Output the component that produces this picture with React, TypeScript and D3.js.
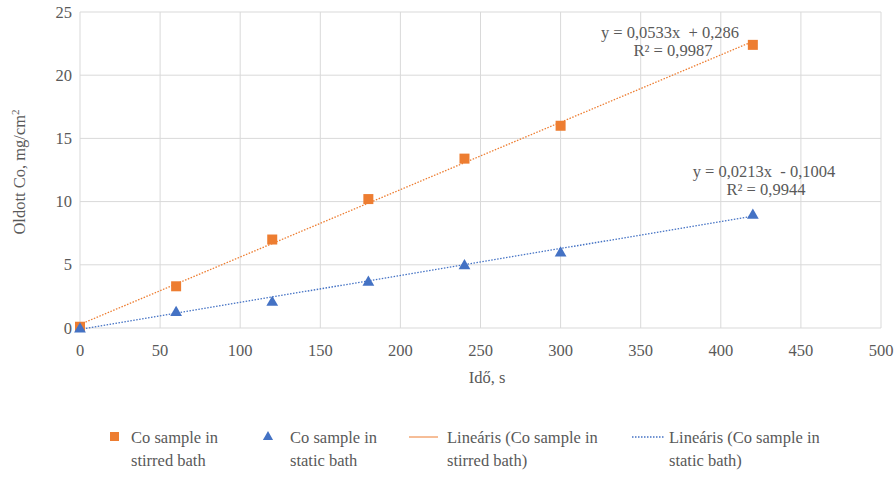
import React from "react";
import * as d3 from "d3";

const times = [0, 60, 120, 180, 240, 300, 420];
const stirred = [0.1, 3.3, 7.0, 10.2, 13.4, 16.0, 22.4];
const staticBath = [0.0, 1.3, 2.1, 3.7, 5.0, 6.0, 9.0];
const xTicks = [0, 50, 100, 150, 200, 250, 300, 350, 400, 450, 500];
const yTicks = [0, 5, 10, 15, 20, 25];
const fitStirred = { slope: 0.0533, intercept: 0.286 };
const fitStatic = { slope: 0.0213, intercept: -0.1004 };
const eqStirred = ["y = 0,0533x  + 0,286", "R² = 0,9987"];
const eqStatic = ["y = 0,0213x  - 0,1004", "R² = 0,9944"];
const legendLabels = [
  ["Co sample in", "stirred bath"],
  ["Co sample in", "static bath"],
  ["Lineáris (Co sample in", "stirred bath)"],
  ["Lineáris (Co sample in", "static bath)"],
];

const ORANGE = "#ED7D31";
const BLUE = "#4472C4";
const TXT = "#595959";
const GRID = "#D9D9D9";
const FONT = "'Liberation Serif', 'Times New Roman', 'DejaVu Serif', serif";
const FS = 16.5;

export default function App() {
  const W = 894, H = 477;
  const L = 80, R = 881, T = 12, B = 328;
  const x = d3.scaleLinear().domain([0, 500]).range([L, R]);
  const y = d3.scaleLinear().domain([0, 25]).range([B, T]);
  const fitLine = (f: { slope: number; intercept: number }) =>
    d3
      .line<[number, number]>()
      .x((d) => x(d[0]))
      .y((d) => y(d[1]))([
      [0, f.intercept],
      [420, f.slope * 420 + f.intercept],
    ]) as string;
  const tri = d3.symbol().type(d3.symbolTriangle).size(60)() as string;
  const ts = { fontFamily: FONT, fontSize: FS, whiteSpace: "pre" as const };

  return (
    <svg width={W} height={H} style={{ position: "absolute", left: 0, top: 0, background: "#fff", fontFamily: FONT }}>
      <rect width={W} height={H} fill="#fff" />
      {xTicks.map((t) => (
        <line key={"gx" + t} x1={x(t)} x2={x(t)} y1={T} y2={B} stroke={GRID} strokeWidth={1} />
      ))}
      {yTicks.map((t) => (
        <line key={"gy" + t} x1={L} x2={R} y1={y(t)} y2={y(t)} stroke={GRID} strokeWidth={1} />
      ))}
      {xTicks.map((t) => (
        <text key={"tx" + t} x={x(t)} y={B + 28} textAnchor="middle" style={ts} fill={TXT}>
          {t}
        </text>
      ))}
      {yTicks.map((t) => (
        <text key={"ty" + t} x={L - 8} y={y(t) + 5.5} textAnchor="end" style={ts} fill={TXT}>
          {t}
        </text>
      ))}
      <text x={487} y={383} textAnchor="middle" style={ts} fill={TXT}>
        Idő, s
      </text>
      <text transform={`translate(25,172) rotate(-90)`} textAnchor="middle" style={ts} fill={TXT}>
        Oldott Co, mg/cm<tspan dy={-6} style={{ fontSize: 11 }}>2</tspan>
      </text>

      <path d={fitLine(fitStirred)} fill="none" stroke={ORANGE} strokeWidth={1.3} strokeDasharray="1.5 1.5" />
      <path d={fitLine(fitStatic)} fill="none" stroke={BLUE} strokeWidth={1.3} strokeDasharray="1.5 1.5" />

      {times.map((t, i) => (
        <rect key={"s" + i} x={x(t) - 5} y={y(stirred[i]) - 5} width={10} height={10} fill={ORANGE} />
      ))}
      {times.map((t, i) => (
        <path key={"b" + i} d={tri} transform={`translate(${x(t)},${y(staticBath[i]) + 1})`} fill={BLUE} />
      ))}

      <text x={670} y={38} textAnchor="middle" style={ts} fill={TXT}>
        {eqStirred[0]}
      </text>
      <text x={673} y={56} textAnchor="middle" style={ts} fill={TXT}>
        {eqStirred[1]}
      </text>
      <text x={764} y={177} textAnchor="middle" style={ts} fill={TXT}>
        {eqStatic[0]}
      </text>
      <text x={766} y={195} textAnchor="middle" style={ts} fill={TXT}>
        {eqStatic[1]}
      </text>

      {/* legend */}
      <rect x={110} y={432} width={9} height={9} fill={ORANGE} />
      <path d={d3.symbol().type(d3.symbolTriangle).size(45)() as string} transform="translate(268,437)" fill={BLUE} />
      <line x1={409} x2={438} y1={437} y2={437} stroke={ORANGE} strokeWidth={1} />
      <line x1={632} x2={664} y1={437} y2={437} stroke={BLUE} strokeWidth={1.3} strokeDasharray="1.5 1.5" />
      {[131, 290, 447, 669].map((lx, i) => (
        <g key={"lg" + i}>
          <text x={lx} y={443} style={ts} fill={TXT}>
            {legendLabels[i][0]}
          </text>
          <text x={lx} y={466} style={ts} fill={TXT}>
            {legendLabels[i][1]}
          </text>
        </g>
      ))}
    </svg>
  );
}
